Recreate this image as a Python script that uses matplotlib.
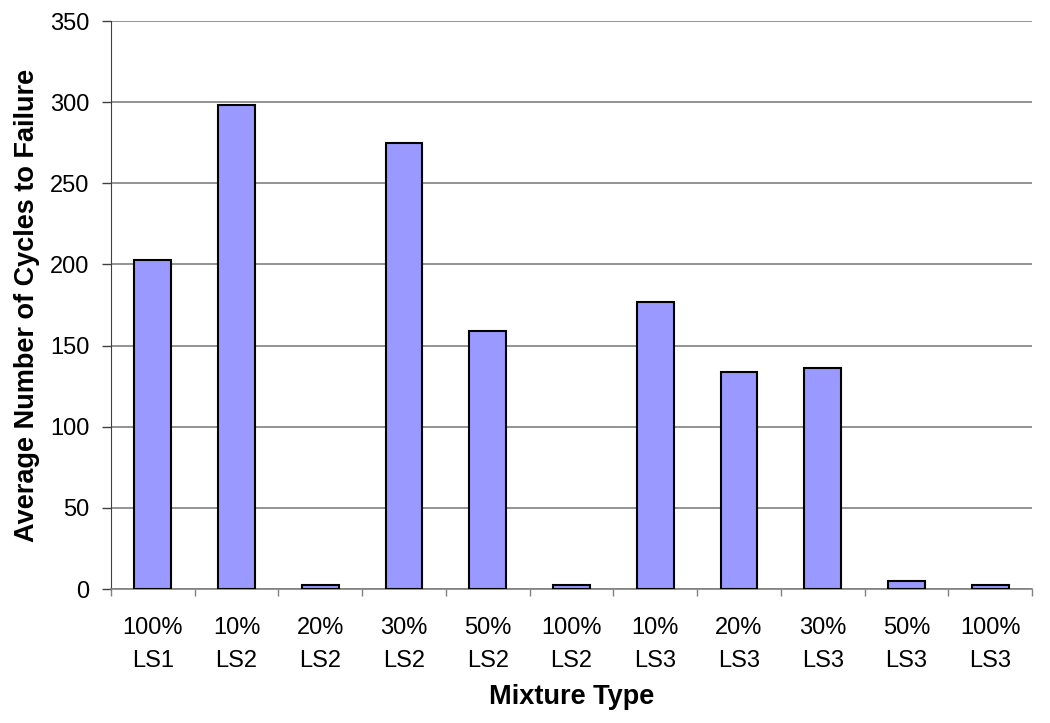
import matplotlib
matplotlib.use("Agg")
from matplotlib import pyplot as plt
import numpy as np

plt.rcParams['font.family'] = ['Liberation Sans', 'DejaVu Sans']

# mixture types and average cycles to failure
mixtures = ["100%\nLS1", "10%\nLS2", "20%\nLS2", "30%\nLS2", "50%\nLS2", "100%\nLS2",
            "10%\nLS3", "20%\nLS3", "30%\nLS3", "50%\nLS3", "100%\nLS3"]
cycles = [203, 298, 2.5, 275, 159, 2.5, 177, 134, 136, 5, 2.5]
y_ticks = [0, 50, 100, 150, 200, 250, 300, 350]

fig = plt.figure(figsize=(10.5, 7.23), dpi=100)
ax = fig.add_axes([111/1050, 1 - 589/723, (1032 - 111)/1050, (589 - 21)/723])

x = np.arange(len(mixtures))
ax.bar(x, cycles, width=0.44, color="#9999FF", edgecolor="black", linewidth=1.5, zorder=3)

ax.set_xlim(-0.5, len(mixtures) - 0.5)
ax.set_ylim(0, 350)
ax.set_yticks(y_ticks)
ax.yaxis.grid(True, color="#808080", linewidth=1.2, zorder=0)

ax.set_xticks(x)
ax.set_xticklabels(mixtures, linespacing=1.6)
ax.set_xticks(np.arange(len(mixtures) + 1) - 0.5, minor=True)
ax.tick_params(axis="x", which="major", length=0, pad=20.5, labelsize=17)
ax.tick_params(axis="x", which="minor", length=5, width=1, color="#808080", direction="out")
ax.tick_params(axis="y", length=6.5, width=1, color="#404040", pad=9, labelsize=17)

for s in ["top", "right"]:
    ax.spines[s].set_visible(False)
ax.spines["left"].set_color("#404040")
ax.spines["bottom"].set_color("#808080")
ax.spines["bottom"].set_linewidth(1.2)

ax.set_ylabel("Average Number of Cycles to Failure", fontsize=19.5, fontweight="bold", labelpad=7)
ax.set_xlabel("Mixture Type", fontsize=19.5, fontweight="bold", labelpad=9)

fig.savefig("out.png", dpi=100)
